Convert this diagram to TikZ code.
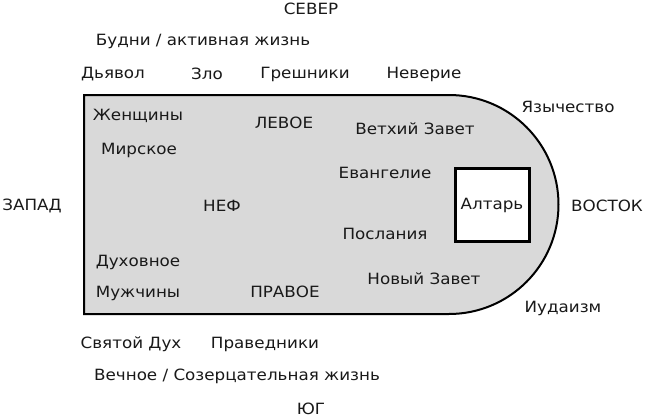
\documentclass[tikz,border=0pt]{standalone}
\usepackage{fontspec}
\setmainfont{DejaVu Sans}[FakeStretch=1.08]
\begin{document}
\begin{tikzpicture}[x=1pt,y=-1pt,
  lbl/.style={inner sep=0pt,font=\fontsize{15.5}{17}\selectfont,text=black!90},
  nave/.style={draw=black,line width=2pt,fill=black!15},
  altarbox/.style={draw=black,line width=3pt,fill=white}]
\useasboundingbox[fill=white] (0,0) rectangle (646,418);
\draw[nave] (84,95) -- (449,95) arc[start angle=-90,end angle=90,radius=109.5] -- (84,314) -- cycle;
\node[altarbox,minimum width=74pt,minimum height=73pt,inner sep=0pt] (altar) at (492,205) {};
\node[lbl] (altart) at (492,205) {Алтарь};
\node[lbl] (n) at (311,9) {СЕВЕР};
\node[lbl] (budni) at (203,41) {Будни / активная жизнь};
\node[lbl] (dyavol) at (113,74) {Дьявол};
\node[lbl] (zlo) at (207,74) {Зло};
\node[lbl] (gresh) at (305,74) {Грешники};
\node[lbl] (never) at (424,74) {Неверие};
\node[lbl] (yaz) at (568,107) {Язычество};
\node[lbl] (zhen) at (138,116) {Женщины};
\node[lbl] (levoe) at (284,123) {ЛЕВОЕ};
\node[lbl] (vet) at (415,129) {Ветхий Завет};
\node[lbl] (mir) at (139,150) {Мирское};
\node[lbl] (evan) at (385,173) {Евангелие};
\node[lbl] (w) at (32,206) {ЗАПАД};
\node[lbl] (nef) at (222,206) {НЕФ};
\node[lbl] (e) at (607,206) {ВОСТОК};
\node[lbl] (posl) at (385,234) {Послания};
\node[lbl] (duh) at (138,262) {Духовное};
\node[lbl] (nov) at (424,279) {Новый Завет};
\node[lbl] (muzh) at (138,293) {Мужчины};
\node[lbl] (pravoe) at (285,292) {ПРАВОЕ};
\node[lbl] (iud) at (563,308) {Иудаизм};
\node[lbl] (svd) at (131,344) {Святой Дух};
\node[lbl] (prav) at (265,344) {Праведники};
\node[lbl] (vech) at (237,376) {Вечное / Созерцательная жизнь};
\node[lbl] (s) at (311,409) {ЮГ};
\end{tikzpicture}
\end{document}
